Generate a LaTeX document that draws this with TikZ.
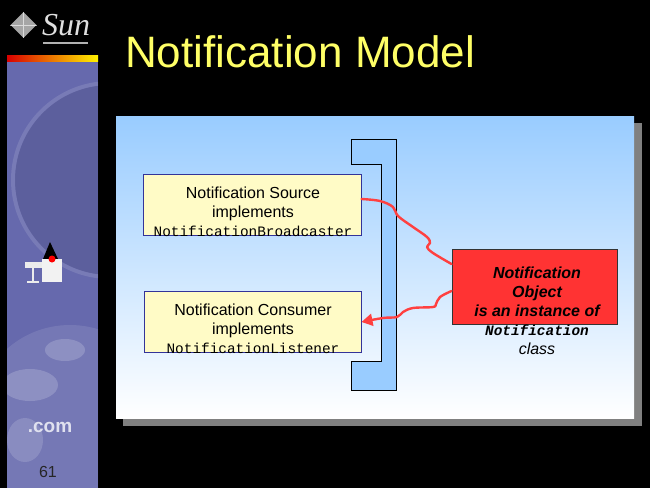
\documentclass[tikz,border=0pt]{standalone}
\usepackage{fontspec}
\setmainfont{Liberation Sans}
\setmonofont{Liberation Mono}
\newfontfamily\logofont{Liberation Serif}
\usetikzlibrary{positioning,calc,arrows.meta,shapes.geometric}

\definecolor{panelblue}{HTML}{99CCFF}
\definecolor{noteyellow}{HTML}{FFFBC6}
\definecolor{boxnavy}{HTML}{333399}
\definecolor{objred}{HTML}{FF3333}
\definecolor{wirered}{HTML}{FF4040}
\definecolor{titleyellow}{HTML}{FFFF66}
\definecolor{sidebar}{HTML}{6669AD}
\definecolor{shadowgray}{HTML}{808080}

\newcommand{\jcode}[1]{{\ttfamily\fontsize{14.4}{19}\selectfont #1}}

\begin{document}
\begin{tikzpicture}[x=1pt,y=-1pt,
    notebox/.style={draw=boxnavy, line width=1pt, fill=noteyellow, inner sep=0pt},
    notetext/.style={align=center, inner sep=0pt, font=\fontsize{16}{19}\selectfont},
    wire/.style={wirered, line width=2.4pt, line cap=round, line join=round}]

    % slide background
    \useasboundingbox (0,0) rectangle (650,488);
    \fill[black] (0,0) rectangle (650,488);

    % Sidebar
    \fill[sidebar] (7,61) rectangle (98,488);
    \begin{scope}
        \clip (7,61) rectangle (98,488);
        \fill[sidebar!70!black, opacity=0.3] (110,180) circle (95); % dark swirl
        \draw[white, opacity=0.12, line width=4pt] (110,180) circle (97);
        \fill[white, opacity=0.1] (70,420) circle (95); % globe
        \fill[white, opacity=0.18] (30,385) ellipse (28 and 16);
        \fill[white, opacity=0.18] (65,350) ellipse (20 and 11);
        \fill[white, opacity=0.15] (25,440) ellipse (18 and 22);
    \end{scope}
    \shade[left color=red!85!black, middle color=orange, right color=yellow!90!orange] (7,55) rectangle (98,61); % strip

    % Sun logo
    \node[diamond, fill=gray!70, minimum size=26pt, inner sep=0pt] (sunmark) at (23.5,25) {};
    \draw[white, opacity=0.6, line width=1pt] (sunmark.north) -- (sunmark.south) (sunmark.west) -- (sunmark.east);
    \node[text=gray!25, font=\logofont\itshape\fontsize{32}{32}\selectfont, inner sep=0pt] (sunword) at (66,25) {Sun};
    \draw[gray!60, line width=1.5pt] (43,43) -- (88,43);

    % Duke
    \fill[black] (50,242) -- (43,259) -- (58,259) -- cycle;
    \fill[gray!10] (42,259) rectangle (62,282);
    \fill[red] (52,259) circle (3.5);
    \fill[gray!15] (25,262) rectangle (42,268);
    \draw[gray!15, line width=2.5pt] (33,268) -- (33,281);
    \draw[gray!15, line width=2pt] (27,282) -- (39,282);

    \node[text=white!80!sidebar, font=\bfseries\fontsize{19}{19}\selectfont] (dotcom) at (50,427) {.com};
    \node[text=black!85, font=\fontsize{16}{16}\selectfont] (pagenum) at (48,472) {61};

    % Title
    \node[anchor=base west, inner sep=0pt, text=titleyellow, font=\fontsize{44}{44}\selectfont] (title) at (125,67) {Notification Model};

    % Panel
    \fill[shadowgray] (123,123) rectangle (642,426); % shadow
    \shade[top color=panelblue, bottom color=white] (116,116) rectangle (634,418);

    % MBean server bracket
    \draw[fill=panelblue, line width=1pt] (351,139) -- (396,139) -- (396,390) -- (351,390)
        -- (351,361) -- (381,361) -- (381,164) -- (351,164) -- cycle;

    % Source and consumer
    \node[notebox, minimum width=218pt, minimum height=61pt] (src) at (252,204.5) {};
    \node[notetext] at (253,211.5) {Notification Source\\implements\\\jcode{NotificationBroadcaster}};
    \node[notebox, minimum width=217pt, minimum height=61pt] (cons) at (252.5,321.5) {};
    \node[notetext] at (253,328.5) {Notification Consumer\\implements\\\jcode{NotificationListener}};

    % Notification object
    \node[draw=black!80, line width=1pt, fill=objred, minimum width=165pt, minimum height=75pt] (obj) at (534.5,286.5) {};
    \node[notetext] at (537,310.5) {\bfseries\itshape Notification\\\bfseries\itshape Object\\\bfseries\itshape is an instance of\\\jcode{\bfseries\itshape Notification}\\\itshape class};

    % wiggly links
    \coordinate (srcout) at ([yshift=5.5pt]src.east);
    \coordinate (objin) at ([yshift=22.5pt]obj.west);
    \coordinate (objout) at ([yshift=-4.5pt]obj.west);
    \coordinate (consin) at ([yshift=-0.5pt]cons.east);
    \draw[wire] plot[smooth, tension=0.6] coordinates {(srcout) (380,201) (393,207) (398,216) (413,227) (427,237) (430,243) (427,247) (433,253) (objin)};
    \draw[wire, -{Triangle[length=11pt,width=12pt]}] plot[smooth, tension=0.6] coordinates {(objout) (440,297) (436,304) (433,307) (413,308) (403,312) (397,317) (383,318) (consin)};
\end{tikzpicture}
\end{document}
